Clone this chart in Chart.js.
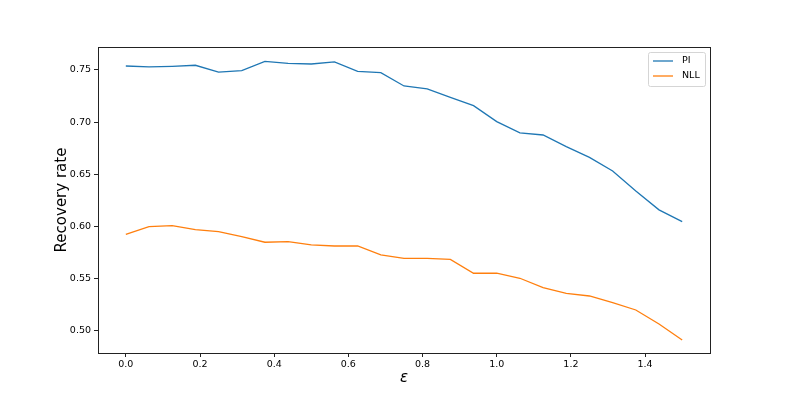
<!DOCTYPE html>
<html>
<head>
<meta charset="utf-8">
<script src="https://cdn.jsdelivr.net/npm/chart.js@4/dist/chart.umd.min.js"></script>
<style>
    html, body { margin: 0; padding: 0; background: #fff; }
    #wrap { width: 789px; height: 398px; }
</style>
</head>
<body>
<div id="wrap"><canvas id="recovery-chart" width="789" height="398"></canvas></div>
<script>
// epsilon values (x)
const epsValues = [0, 0.0625, 0.125, 0.1875, 0.25, 0.3125, 0.375, 0.4375, 0.5, 0.5625, 0.625, 0.6875,
    0.75, 0.8125, 0.875, 0.9375, 1.0, 1.0625, 1.125, 1.1875, 1.25, 1.3125, 1.375, 1.4375, 1.5];
// recovery rate per method
const piValues = [0.7538, 0.7529, 0.7535, 0.7545, 0.7480, 0.7494, 0.7583, 0.7564, 0.7557, 0.7577, 0.7487, 0.7474,
    0.7347, 0.7318, 0.7238, 0.7158, 0.7005, 0.6897, 0.6877, 0.6765, 0.6663, 0.6533, 0.6340, 0.6160, 0.6047];
const nllValues = [0.5926, 0.5999, 0.6009, 0.5970, 0.5951, 0.5904, 0.5850, 0.5856, 0.5824, 0.5814, 0.5814, 0.5728,
    0.5696, 0.5696, 0.5686, 0.5553, 0.5553, 0.5505, 0.5415, 0.5361, 0.5335, 0.5271, 0.5201, 0.5067, 0.4914];
const seriesNames = ["PI", "NLL"];
const xTicks = [0.0, 0.2, 0.4, 0.6, 0.8, 1.0, 1.2, 1.4];
const yTicks = [0.50, 0.55, 0.60, 0.65, 0.70, 0.75];

const toPoints = (vals) => vals.map((v, i) => ({x: epsValues[i], y: v}));
const FONT = "'DejaVu Sans', sans-serif";

// frame + legend like matplotlib
const framePlugin = {
    id: "frame",
    afterDraw(chart) {
        const c = chart.ctx;
        const a = chart.chartArea;
        c.save();
        c.strokeStyle = "#222";
        c.lineWidth = 1;
        c.strokeRect(Math.round(a.left) + 0.5, Math.round(a.top) + 0.5,
            Math.round(a.right - a.left), Math.round(a.bottom - a.top));

        // legend box
        const bx = 648, by = 52, bw = 57, bh = 34;
        c.fillStyle = "rgba(255,255,255,0.8)";
        c.strokeStyle = "#d5d5d5";
        c.beginPath();
        c.roundRect(bx + 0.5, by + 0.5, bw, bh, 2);
        c.fill();
        c.stroke();
        c.font = "9.5px " + FONT;
        c.textBaseline = "middle";
        c.textAlign = "left";
        chart.data.datasets.forEach((ds, i) => {
            const ly = by + 9 + i * 15;
            c.strokeStyle = ds.borderColor;
            c.lineWidth = 1.3;
            c.beginPath();
            c.moveTo(bx + 5, ly);
            c.lineTo(bx + 25, ly);
            c.stroke();
            c.fillStyle = "#000";
            c.fillText(ds.label, bx + 34, ly);
        });
        c.restore();
    }
};

new Chart(document.getElementById("recovery-chart").getContext("2d"), {
    type: "line",
    data: {
        datasets: [{
            label: seriesNames[0],
            data: toPoints(piValues),
            borderColor: "#1f77b4",
            borderWidth: 1.3,
            pointRadius: 0,
            tension: 0,
            fill: false
        }, {
            label: seriesNames[1],
            data: toPoints(nllValues),
            borderColor: "#ff7f0e",
            borderWidth: 1.3,
            pointRadius: 0,
            tension: 0,
            fill: false
        }]
    },
    options: {
        responsive: false,
        animation: false,
        events: [],
        layout: { padding: { left: 0, top: 47, right: 79, bottom: 0 } },
        plugins: {
            legend: { display: false },
            tooltip: { enabled: false }
        },
        scales: {
            x: {
                type: "linear",
                min: -0.075,
                max: 1.575,
                afterBuildTicks: (s) => { s.ticks = xTicks.map(v => ({value: v})); },
                afterFit: (s) => { s.height = 45; },
                grid: { display: true, drawOnChartArea: false, drawTicks: true, tickLength: 4, color: "#222" },
                border: { display: true, color: "#222" },
                ticks: {
                    font: { family: FONT, size: 9.5 },
                    color: "#000",
                    padding: 2,
                    maxRotation: 0,
                    callback: (v) => v.toFixed(1)
                },
                title: {
                    display: true,
                    text: "ε",
                    font: { family: FONT, size: 15, style: "italic" },
                    color: "#000",
                    padding: { top: 0, bottom: 11 }
                }
            },
            y: {
                type: "linear",
                min: 0.4789,
                max: 0.772,
                afterBuildTicks: (s) => { s.ticks = yTicks.map(v => ({value: v})); },
                afterFit: (s) => { s.width = 98; },
                grid: { display: true, drawOnChartArea: false, drawTicks: true, tickLength: 4, color: "#222" },
                border: { display: true, color: "#222" },
                ticks: {
                    font: { family: FONT, size: 9.5 },
                    color: "#000",
                    padding: 3,
                    callback: (v) => v.toFixed(2)
                },
                title: {
                    display: true,
                    text: "Recovery rate",
                    font: { family: FONT, size: 15 },
                    color: "#000",
                    padding: { top: 53, bottom: 0 }
                }
            }
        }
    },
    plugins: [framePlugin]
});
</script>
</body>
</html>
